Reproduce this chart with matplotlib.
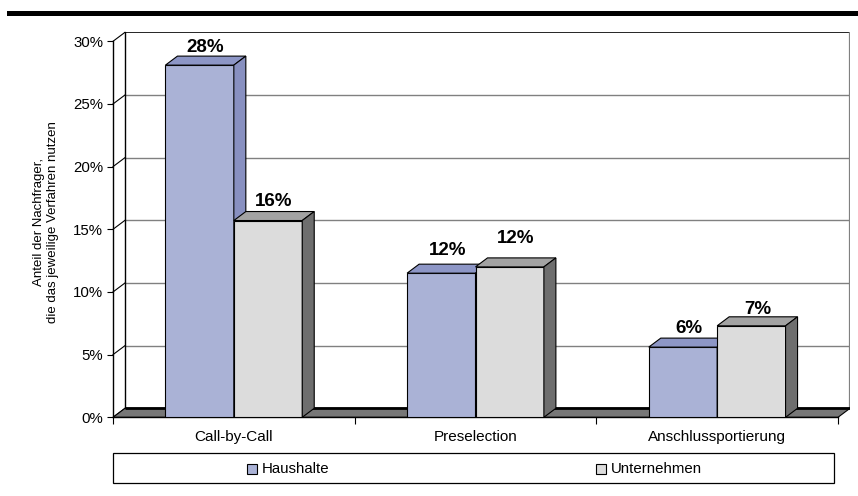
import matplotlib
matplotlib.use("Agg")
import matplotlib.pyplot as plt
from matplotlib.patches import Polygon, Rectangle

plt.rcParams['font.family'] = ['Liberation Sans', 'DejaVu Sans']

# ---- data -------------------------------------------------------------
categories = ["Call-by-Call", "Preselection", "Anschlussportierung"]
series_names = ["Haushalte", "Unternehmen"]
haushalte = [28.1, 11.5, 5.6]
unternehmen = [15.7, 12.0, 7.3]
y_ticks = [0, 5, 10, 15, 20, 25, 30]
y_label = "Anteil der Nachfrager,\ndie das jeweilige Verfahren nutzen"

# ---- styling ----------------------------------------------------------
front_cols = ["#AAB2D6", "#DCDCDC"]
top_cols = ["#8D96C6", "#A3A3A3"]
side_cols = ["#8890C0", "#6E6E6E"]
floor_col = "#777777"
grid_col = "#808080"
label_lift_px = [[4.4, 9.3, 5.0], [5.3, 14.7, 2.7]]   # gap above each bar's top

W_PX, H_PX = 858, 496
fig = plt.figure(figsize=(W_PX / 100, H_PX / 100), dpi=100)


def fx(x):
    return x / W_PX


def fy(y):
    return 1 - y / H_PX


# plot area in pixels: front-left floor corner to back-right wall corner
ax_l, ax_r, ax_b, ax_t = 113, 850, 417.3, 32.3
depth_px = (12.0, 9.0)
ax = fig.add_axes([fx(ax_l), fy(ax_b), (ax_r - ax_l) / W_PX, (ax_b - ax_t) / H_PX])

n_cat = len(categories)
ymax = y_ticks[-1]
ax_w, ax_h = ax_r - ax_l, ax_b - ax_t
DX = n_cat * depth_px[0] / (ax_w - depth_px[0])
DY = ymax * depth_px[1] / (ax_h - depth_px[1])
px_per_pct = ax_h / (ymax + DY)

x_lo, x_hi = -0.5, n_cat - 0.5
ax.set_xlim(x_lo, x_hi + DX)
ax.set_ylim(0, ymax + DY)
ax.set_facecolor("none")

# ---- walls and floor --------------------------------------------------
ax.add_patch(Rectangle((x_lo + DX, DY), x_hi - x_lo, ymax, facecolor="white",
                       edgecolor="none", zorder=0))
for v in y_ticks[1:-1]:
    ax.plot([x_lo + DX, x_hi + DX], [v + DY, v + DY], color=grid_col, lw=1.0, zorder=1)
ax.plot([x_lo + DX, x_hi + DX], [ymax + DY, ymax + DY], color="black", lw=1.2, zorder=1)
ax.plot([x_hi + DX, x_hi + DX], [DY, ymax + DY], color=grid_col, lw=1.6, zorder=1)
ax.plot([x_lo + DX, x_lo + DX], [DY, ymax + DY], color="black", lw=1.0, zorder=1)
for v in y_ticks:
    ax.plot([x_lo, x_lo + DX], [v, v + DY], color="black", lw=0.8, zorder=1,
            clip_on=False)

ax.add_patch(Polygon([(x_lo, 0), (x_hi, 0), (x_hi + DX, DY), (x_lo + DX, DY)],
                     closed=True, facecolor=floor_col, edgecolor="black", lw=0.8,
                     zorder=1.5))
ax.plot([x_lo + DX, x_hi + DX], [DY, DY], color="black", lw=2.0, zorder=1.6,
        solid_capstyle="butt")

# ---- 3D bars ----------------------------------------------------------
bar_w = 0.283
for s, vals in enumerate([haushalte, unternehmen]):
    z = 3 + s
    x0s = [i - bar_w + s * bar_w for i in range(n_cat)]
    ax.bar(x0s, vals, width=bar_w, align="edge", color=front_cols[s],
           edgecolor="black", linewidth=0.8, zorder=z)
    for i, (x0, v) in enumerate(zip(x0s, vals)):
        x1 = x0 + bar_w
        ax.add_patch(Polygon([(x0, v), (x1, v), (x1 + DX, v + DY), (x0 + DX, v + DY)],
                             closed=True, facecolor=top_cols[s], edgecolor="black",
                             lw=0.8, zorder=z))
        ax.add_patch(Polygon([(x1, 0), (x1 + DX, DY), (x1 + DX, v + DY), (x1, v)],
                             closed=True, facecolor=side_cols[s], edgecolor="black",
                             lw=0.8, zorder=z))
        ax.text(x0 + bar_w / 2 + DX / 2, v + DY + label_lift_px[s][i] / px_per_pct,
                f"{int(v + 0.5)}%", ha="center", va="baseline", fontsize=13.5,
                fontweight="bold", zorder=10, clip_on=False)

# ---- axes -------------------------------------------------------------
for sp in ["top", "right"]:
    ax.spines[sp].set_visible(False)
ax.spines["left"].set_bounds(0, ymax)
ax.spines["bottom"].set_bounds(x_lo, x_hi)
for sp in ["left", "bottom"]:
    ax.spines[sp].set_linewidth(1.0)
    ax.spines[sp].set_zorder(2)

ax.set_yticks(y_ticks)
ax.set_yticklabels([f"{t}%" for t in y_ticks])
ax.tick_params(axis="y", length=4.3, width=0.8, pad=2.9, labelsize=10.8)

ax.set_xticks([x_lo + k for k in range(n_cat + 1)])
ax.set_xticklabels([])
ax.set_xticks(range(n_cat), minor=True)
ax.set_xticklabels(categories, minor=True)
ax.tick_params(axis="x", which="major", length=5.0, width=0.8)
ax.tick_params(axis="x", which="minor", length=0, pad=9.0, labelsize=11)

fig.text(fx(46), fy(222), y_label, rotation=90, ha="center", va="center",
         multialignment="center", fontsize=9.5, linespacing=1.33)

# ---- legend -----------------------------------------------------------
leg_l, leg_r, leg_t, leg_b = 113, 834, 453.3, 483.3
fig.patches.append(Rectangle((fx(leg_l), fy(leg_b)), (leg_r - leg_l) / W_PX,
                             (leg_b - leg_t) / H_PX, transform=fig.transFigure,
                             facecolor="white", edgecolor="black", lw=0.9))
leg_cy = 469.0
mark = 10.5
for s, (name, mx) in enumerate(zip(series_names, [246.7, 595.7])):
    fig.patches.append(Rectangle((fx(mx), fy(leg_cy + mark / 2)), mark / W_PX,
                                 mark / H_PX, transform=fig.transFigure,
                                 facecolor=front_cols[s], edgecolor="black", lw=0.8))
    fig.text(fx(mx + mark + 4.5), fy(leg_cy), name, ha="left", va="center",
             fontsize=10.8)

# ---- header rule ------------------------------------------------------
fig.patches.append(Rectangle((fx(6.7), fy(16)), (W_PX - 6.7) / W_PX, 5 / H_PX,
                             transform=fig.transFigure, facecolor="black",
                             edgecolor="none"))

fig.savefig("out.png", dpi=100)
